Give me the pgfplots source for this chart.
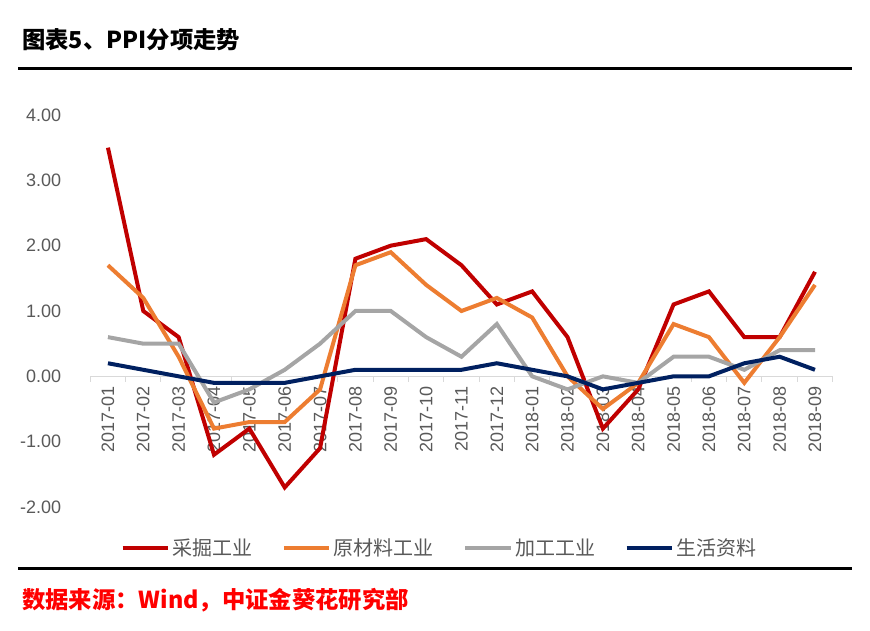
\documentclass[border=0pt]{standalone}
\usepackage{pgfplots}
\pgfplotsset{compat=1.18}
\usepackage{pgfplotstable}
\usepackage{fontspec}
\setmainfont{Liberation Sans}
\newfontfamily\cjk{Noto Sans CJK SC}
\definecolor{cRed}{HTML}{C00000}
\definecolor{cOrange}{HTML}{ED7D31}
\definecolor{cGray}{HTML}{A5A5A5}
\definecolor{cBlue}{HTML}{002060}
\definecolor{txtgray}{HTML}{595959}
\definecolor{axgray}{HTML}{D9D9D9}
\definecolor{srcred}{HTML}{FF0000}
\pgfplotstableread{
x red orange gray blue
0 3.5 1.7 0.6 0.2
1 1.0 1.2 0.5 0.1
2 0.6 0.3 0.5 0.0
3 -1.2 -0.8 -0.4 -0.1
4 -0.8 -0.7 -0.2 -0.1
5 -1.7 -0.7 0.1 -0.1
6 -1.1 -0.2 0.5 0.0
7 1.8 1.7 1.0 0.1
8 2.0 1.9 1.0 0.1
9 2.1 1.4 0.6 0.1
10 1.7 1.0 0.3 0.1
11 1.1 1.2 0.8 0.2
12 1.3 0.9 0.0 0.1
13 0.6 0.0 -0.2 0.0
14 -0.8 -0.5 0.0 -0.2
15 -0.2 -0.1 -0.1 -0.1
16 1.1 0.8 0.3 0.0
17 1.3 0.6 0.3 0.0
18 0.6 -0.1 0.1 0.2
19 0.6 0.6 0.4 0.3
20 1.6 1.4 0.4 0.1
}\ppi
\begin{document}
\begin{tikzpicture}
\path (0pt,0pt) rectangle (652.5pt,473.25pt);
\node[anchor=west, inner sep=0pt, font=\cjk\bfseries\fontsize{17.5}{20}\selectfont] at (16.5pt,443.25pt) {图表5、PPI分项走势};
\draw[line width=2.25pt] (13.5pt,421.5pt) -- (639pt,421.5pt);
\draw[line width=2.25pt] (13.5pt,46.5pt) -- (639pt,46.5pt);
\node[anchor=west, inner sep=0pt, text=srcred, font=\cjk\bfseries\fontsize{17.5}{20}\selectfont] at (16.5pt,23.25pt) {数据来源：Wind，中证金葵花研究部};
\begin{axis}[
  at={(67.7pt,93pt)}, anchor=south west,
  width=556.8pt, height=294pt, scale only axis,
  xmin=-0.5, xmax=20.5, ymin=-2, ymax=4,
  axis x line*=middle, axis y line*=left,
  x axis line style={draw=axgray, line width=0.75pt, -},
  y axis line style={draw=none},
  tick align=outside,
  xtick={0,...,20},
  xticklabels={2017-01,2017-02,2017-03,2017-04,2017-05,2017-06,2017-07,2017-08,2017-09,2017-10,2017-11,2017-12,2018-01,2018-02,2018-03,2018-04,2018-05,2018-06,2018-07,2018-08,2018-09},
  major x tick style={draw=none},
  minor xtick={-0.5,0.5,...,20.5},
  minor x tick style={draw=axgray, line width=0.75pt},
  minor tick length=4pt,
  xticklabel style={rotate=90, anchor=east, font=\fontsize{13.5}{15}\selectfont, text=txtgray, yshift=-0pt},
  ytick={-2,-1,0,1,2,3,4},
  ytick style={draw=none},
  yticklabel style={font=\fontsize{13.5}{15}\selectfont, text=txtgray, xshift=-14pt},
  /pgf/number format/.cd, fixed, fixed zerofill, precision=2, assume math mode=true,
  /pgfplots/.cd,
  clip=false,
  legend columns=4,
  legend style={at={(0.471,-0.105)}, anchor=center, draw=none, fill=none,
    font=\cjk\fontsize{15}{18}\selectfont, text=txtgray,
    /tikz/every even column/.append style={column sep=20pt}},
  legend image code/.code={\draw[#1, line width=3pt] (0pt,0pt) -- (34pt,0pt);},
]
\addplot[cRed, line width=3pt] table[x=x,y=red] {\ppi};
\addlegendentry{采掘工业}
\addplot[cOrange, line width=3pt] table[x=x,y=orange] {\ppi};
\addlegendentry{原材料工业}
\addplot[cGray, line width=3pt] table[x=x,y=gray] {\ppi};
\addlegendentry{加工工业}
\addplot[cBlue, line width=3pt] table[x=x,y=blue] {\ppi};
\addlegendentry{生活资料}
\end{axis}
\end{tikzpicture}
\end{document}
